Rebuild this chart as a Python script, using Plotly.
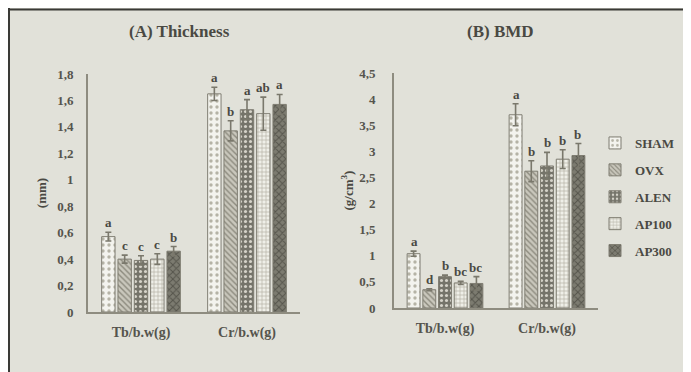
import plotly.graph_objects as go

categories = ["Tb/b.w(g)", "Cr/b.w(g)"]
groups = ["SHAM", "OVX", "ALEN", "AP100", "AP300"]

# Panel A: Thickness (mm)
thick_vals = {
    "SHAM":  [0.57, 1.65],
    "OVX":   [0.40, 1.37],
    "ALEN":  [0.39, 1.53],
    "AP100": [0.40, 1.50],
    "AP300": [0.46, 1.57],
}
thick_err = {
    "SHAM":  [0.033, 0.05],
    "OVX":   [0.03, 0.076],
    "ALEN":  [0.035, 0.076],
    "AP100": [0.04, 0.125],
    "AP300": [0.035, 0.075],
}
thick_letters = {
    "SHAM": ["a", "a"], "OVX": ["c", "b"], "ALEN": ["c", "a"],
    "AP100": ["c", "ab"], "AP300": ["b", "a"],
}

# Panel B: BMD (g/cm3)
bmd_vals = {
    "SHAM":  [1.04, 3.70],
    "OVX":   [0.35, 2.62],
    "ALEN":  [0.60, 2.72],
    "AP100": [0.48, 2.85],
    "AP300": [0.47, 2.92],
}
bmd_err = {
    "SHAM":  [0.05, 0.21],
    "OVX":   [0.02, 0.20],
    "ALEN":  [0.03, 0.26],
    "AP100": [0.03, 0.18],
    "AP300": [0.13, 0.23],
}
bmd_letters = {
    "SHAM": ["a", "a"], "OVX": ["d", "b"], "ALEN": ["b", "b"],
    "AP100": ["bc", "b"], "AP300": ["bc", "b"],
}

styles = {
    "SHAM":  dict(shape=".", bg="#F3F3EE", fg="#B5B3A6", size=6, sol=0.25),
    "OVX":   dict(shape="\\", bg="#C9C7BC", fg="#8C8A7E", size=4, sol=0.35),
    "ALEN":  dict(shape=".", bg="#75746A", fg="#D5D3C9", size=5, sol=0.3),
    "AP100": dict(shape="+", bg="#EFEFE8", fg="#B0AEA2", size=4, sol=0.3),
    "AP300": dict(shape="x", bg="#7C7B70", fg="#55544B", size=5, sol=0.35),
}

BG = "#E1E1D9"
TXT = "#4A4943"
TICKC = "#55544D"
AXC = "#8E8C80"
FONT = "Liberation Serif"

fig = go.Figure()

BARGAP_A = 0.23
BARGAP_B = 0.245
GROUPGAP = 0.18


def add_panel(vals, errs, letters, xa, ya, showlegend, bargap):
    n = len(groups)
    for i, g in enumerate(groups):
        st = styles[g]
        fig.add_trace(go.Bar(
            x=categories, y=vals[g], name=g,
            xaxis=xa, yaxis=ya, showlegend=showlegend, legendgroup=g,
            marker=dict(color=st["bg"],
                        line=dict(color="#7F7D72", width=1),
                        pattern=dict(shape=st["shape"], bgcolor=st["bg"],
                                     fgcolor=st["fg"], size=st["size"],
                                     solidity=st["sol"], fillmode="replace")),
            error_y=dict(type="data", array=errs[g], visible=True,
                         color="#7A786C", thickness=1.6, width=3),
        ))
        ax_ref = "x" if xa == "x" else "x2"
        ay_ref = "y" if ya == "y" else "y2"
        slot = (1 - bargap) / n
        for c in range(len(categories)):
            xpos = c - (1 - bargap) / 2 + (i + 0.5) * slot
            fig.add_annotation(
                x=xpos, y=vals[g][c] + errs[g][c], xref=ax_ref, yref=ay_ref,
                text="<b>%s</b>" % letters[g][c], showarrow=False,
                xanchor="center", yanchor="bottom", yshift=0,
                font=dict(family=FONT, size=13, color=TXT))


add_panel(thick_vals, thick_err, thick_letters, "x", "y", True, BARGAP_A)
add_panel(bmd_vals, bmd_err, bmd_letters, "x2", "y2", False, BARGAP_B)

# the page adds an 8px body margin, so the figure is 8px smaller each way
W, H = 683, 364

axis_common = dict(showgrid=False, zeroline=False, showline=True,
                   linecolor=AXC, linewidth=2, ticks="", automargin=False)
ytick_font = dict(family=FONT, size=13, color=TICKC, weight="bold")
xtick_font = dict(family=FONT, size=14, color=TICKC, weight="bold")

fig.update_layout(
    width=W, height=H,
    margin=dict(l=0, r=0, t=0, b=0, autoexpand=False),
    paper_bgcolor=BG, plot_bgcolor=BG,
    separators=", ",
    barmode="group", bargap=BARGAP_A, bargroupgap=GROUPGAP,
    font=dict(family=FONT, color=TXT, weight="bold"),
    xaxis=dict(domain=[80 / W, 292 / W], anchor="y", ticklabelstandoff=6,
               tickfont=xtick_font, **axis_common),
    yaxis=dict(domain=[60 / H, 298 / H], range=[0, 1.8], dtick=0.2,
               anchor="x", ticklabelstandoff=10, tickfont=ytick_font,
               title=dict(text="<b>(mm)</b>", standoff=8,
                          font=dict(family=FONT, size=13, color=TXT)),
               **axis_common),
    xaxis2=dict(domain=[386 / W, 590 / W], anchor="y2", ticklabelstandoff=6,
                tickfont=xtick_font, **axis_common),
    yaxis2=dict(domain=[64 / H, 299 / H], range=[0, 4.5], dtick=0.5,
                anchor="x2", ticklabelstandoff=14, tickfont=ytick_font,
                title=dict(text="<b>(g/cm<sup>3</sup>)</b>", standoff=3,
                           font=dict(family=FONT, size=13, color=TXT)),
                **axis_common),
    legend=dict(x=587 / W, y=1 - 120 / H, xanchor="left", yanchor="top",
                bgcolor="rgba(0,0,0,0)", traceorder="grouped",
                tracegroupgap=7, itemwidth=30,
                font=dict(family=FONT, size=13, color=TXT, weight="bold")),
)

fig.add_annotation(x=171 / W, y=1 - 24 / H, xref="paper", yref="paper",
                   xanchor="center", yanchor="middle",
                   text="<b>(A) Thickness</b>", showarrow=False,
                   font=dict(family=FONT, size=17, color=TXT))
fig.add_annotation(x=492 / W, y=1 - 23 / H, xref="paper", yref="paper",
                   xanchor="center", yanchor="middle",
                   text="<b>(B) BMD</b>", showarrow=False,
                   font=dict(family=FONT, size=17, color=TXT))

# dark top and left frame of the picture
fig.add_shape(type="line", xref="paper", yref="paper", x0=0, x1=1,
              y0=1 - 1.5 / H, y1=1 - 1.5 / H, line=dict(color="#3A3A36", width=2))
fig.add_shape(type="line", xref="paper", yref="paper", x0=1 / W, x1=1 / W,
              y0=0, y1=1, line=dict(color="#3A3A36", width=2))

fig.write_html("out.html")
